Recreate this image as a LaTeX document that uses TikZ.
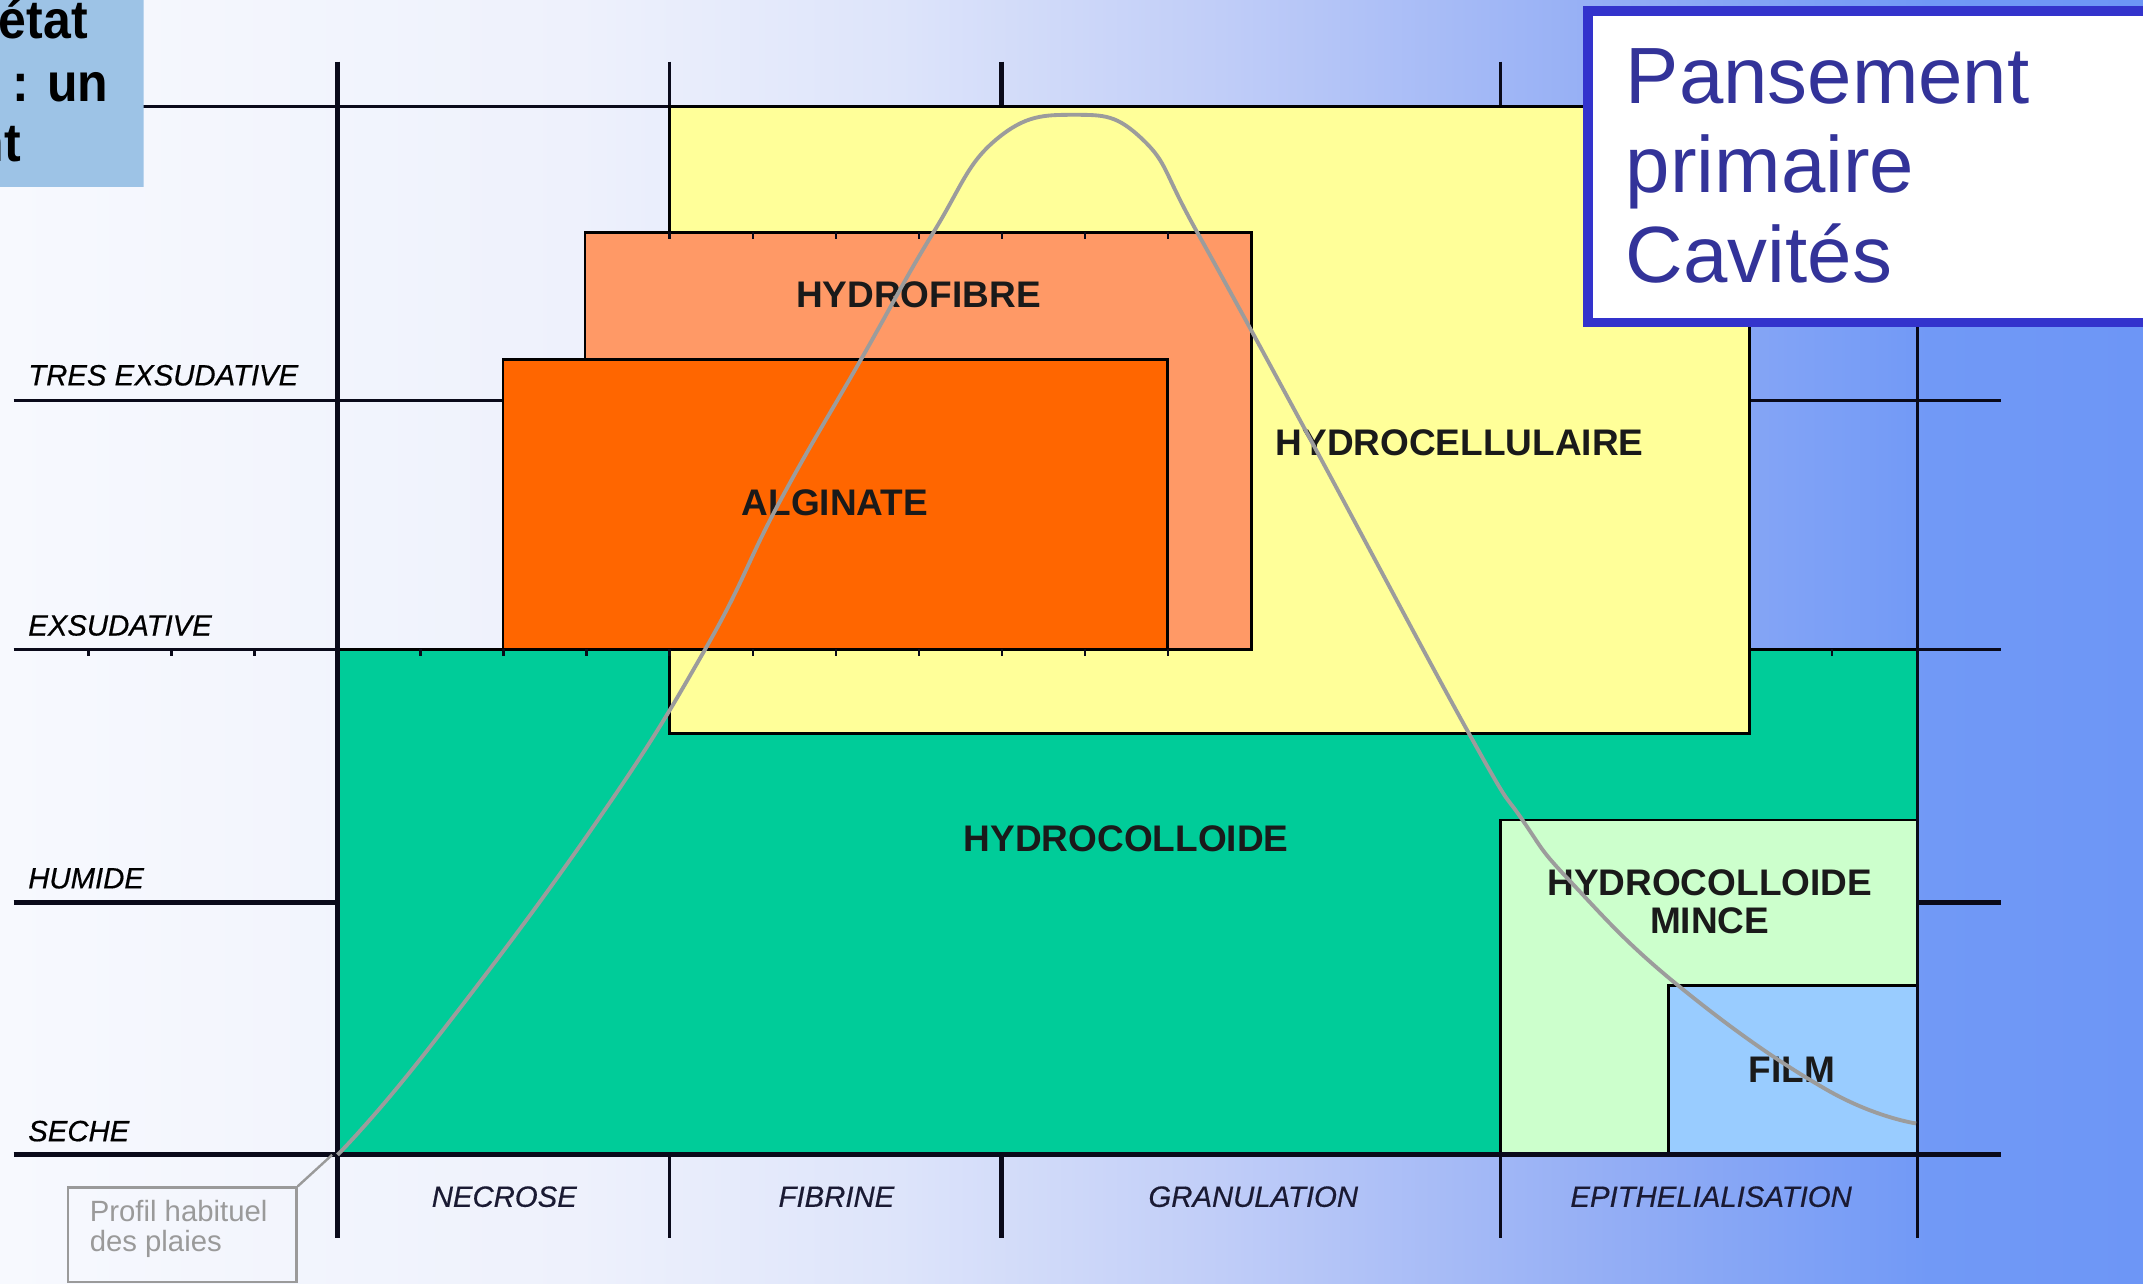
\documentclass[tikz,border=0pt]{standalone}
\usepackage{fontspec}
\setmainfont{Liberation Sans}
\newfontfamily\labfont[FakeBold=0.5]{Liberation Sans Italic}
\usepackage{graphicx}
\definecolor{bgA}{HTML}{F7F9FE}
\definecolor{bgB}{HTML}{EEF1FC}
\definecolor{bgC}{HTML}{DDE4FA}
\definecolor{bgD}{HTML}{C0CDF8}
\definecolor{bgE}{HTML}{94AEF5}
\definecolor{bgF}{HTML}{7199F6}
\definecolor{bgG}{HTML}{6D96F6}
\definecolor{cYellow}{HTML}{FFFF99}
\definecolor{cHydrofibre}{HTML}{FF9966}
\definecolor{cAlginate}{HTML}{FF6600}
\definecolor{cGreen}{HTML}{00CC99}
\definecolor{cMince}{HTML}{CCFFCC}
\definecolor{cFilm}{HTML}{99CCFF}
\definecolor{cTopBox}{HTML}{9DC3E6}
\definecolor{cPansBorder}{HTML}{3333CC}
\definecolor{cPansText}{HTML}{333399}
\definecolor{cLine}{HTML}{0A0A1A}
\definecolor{cCurve}{HTML}{9C9C9C}
\definecolor{cCallout}{HTML}{9A9A9A}
\definecolor{cLabel}{HTML}{1A1A1A}
\definecolor{cColLab}{HTML}{1A1A33}
\pgfdeclarehorizontalshading{bgshade}{100bp}{color(0bp)=(bgA); color(25bp)=(bgA); color(38.5bp)=(bgB); color(46bp)=(bgC); color(53.5bp)=(bgD); color(62.5bp)=(bgE); color(70bp)=(bgF); color(75bp)=(bgG); color(100bp)=(bgG)}
\begin{document}
\begin{tikzpicture}[x=0.01cm, y=-0.01cm,
  thinline/.style={draw=cLine, line width=0.6pt},
  thickline/.style={draw=cLine, line width=1.05pt},
  zone/.style={draw=black, line width=0.6pt},
  rowlab/.style={font=\fontsize{6.1pt}{7pt}\labfont, anchor=base west, inner sep=0pt, text=black},
  collab/.style={font=\fontsize{6.1pt}{7pt}\labfont, anchor=base, inner sep=0pt, text=cColLab},
  mainlab/.style={font=\fontsize{7.7pt}{9pt}\selectfont\bfseries, anchor=base, inner sep=0pt, text=cLabel},
  panstext/.style={font=\fontsize{16.6pt}{18.6pt}\selectfont, anchor=base west, inner sep=0pt, text=cPansText},
  topboxtext/.style={font=\fontsize{10.4pt}{12pt}\selectfont\bfseries, anchor=base east, inner sep=0pt, text=black},
  tickmark/.style={draw=cLine, line width=0.5pt},
  profil/.style={draw=cCurve, line width=0.8pt},
  calltext/.style={font=\fontsize{6.1pt}{7pt}\selectfont, anchor=base west, inner sep=0pt, text=cCallout},
  callbox/.style={draw=cCallout, line width=0.5pt}
]
\useasboundingbox (0,0) rectangle (1568,939);
\shade[shading=bgshade] (0,0) rectangle (1568,939);

% grid lines
\draw[thinline] (10,78) -- (1160,78);
\draw[thinline] (10,293) -- (1464,293);
\draw[thinline] (10,475) -- (1464,475);
\draw[thickline] (10,660) -- (1464,660);
\draw[thinline] (490,45) -- (490,906);
\draw[thickline] (733,45) -- (733,906);
\draw[thinline] (1098,45) -- (1098,906);

% zones
\filldraw[zone, fill=cGreen] (247,475) rectangle (1403,845);
\filldraw[zone, fill=cYellow] (490,78) rectangle (1280,537);
\filldraw[zone, fill=cHydrofibre] (428,170) rectangle (916,475);
\filldraw[zone, fill=cAlginate] (368,263) rectangle (854,475);
\filldraw[zone, fill=cMince] (1098,600) rectangle (1403,845);
\filldraw[zone, fill=cFilm] (1221,721) rectangle (1403,845);

% main axes on top
\draw[thickline] (247,45) -- (247,906);
\draw[thickline] (10,845) -- (1464,845);
\draw[thinline] (1403,236) -- (1403,906);

% small ticks
\foreach \k in {-3,...,10,18} \draw[tickmark] ({247+60.75*\k},475) -- ++(0,5);
\foreach \k in {4,...,10} \draw[tickmark] ({247+60.75*\k},170) -- ++(0,5);

% row labels
\node[rowlab] (lTres) at (20,282) {TRES EXSUDATIVE};
\node[rowlab] (lExs) at (20,465) {EXSUDATIVE};
\node[rowlab] (lHum) at (20,650) {HUMIDE};
\node[rowlab] (lSec) at (20,835) {SECHE};

% column labels
\node[collab] (cNec) at (369,883) {NECROSE};
\node[collab] (cFib) at (612,883) {FIBRINE};
\node[collab] (cGra) at (917,883) {GRANULATION};
\node[collab] (cEpi) at (1252,883) {EPITHELIALISATION};

% zone labels
\node[mainlab] (tHydrofibre) at (672,225) {HYDROFIBRE};
\node[mainlab] (tAlginate) at (611,377) {ALGINATE};
\node[mainlab] (tCellu) at (1068,333) {HYDROCELLULAIRE};
\node[mainlab] (tColl) at (824,623) {HYDROCOLLOIDE};
\node[mainlab] (tMince1) at (1251,655) {HYDROCOLLOIDE};
\node[mainlab] (tMince2) at (1251,683) {MINCE};
\node[mainlab] (tFilm) at (1311,792) {FILM};

% wound profile curve
\draw[profil] plot[smooth, tension=0.75] coordinates {(247,845) (313,768) (434,605) (516,475) (570,368) (630,263) (683,170) (729,102) (786,84) (836,102) (876,170) (958,320) (1075,537) (1114,600) (1150,646) (1229,722) (1336,797) (1402,822)};

% callout
\coordinate (origin) at (243,845);
\node[callbox, minimum width=1.67cm, minimum height=0.69cm, inner sep=0pt, anchor=north west] (callout) at (49,868) {};
\node[calltext] (ct1) at (65,894) {Profil habituel};
\node[calltext] (ct2) at (65,916) {des plaies};
\draw[callbox] (callout.north east) -- (origin);

% title box
\draw[draw=cPansBorder, line width=2pt, fill=white] (1162,8) rectangle (1640,236);
\node[panstext] (p1) at (1189,76) {Pansement};
\node[panstext] (p2) at (1189,141) {primaire};
\node[panstext] (p3) at (1189,207) {Cavités};

% clipped top-left box
\begin{scope}
\clip (0,0) rectangle (105,137);
\fill[cTopBox] (0,0) rectangle (105,137);
\node[topboxtext] (t1) at (65,28) {\scalebox{1}[1.08]{état}};
\node[topboxtext] (t2) at (80,74) {\scalebox{1}[1.08]{: un}};
\node[topboxtext] (t3) at (16,118) {\scalebox{1}[1.08]{nt}};
\end{scope}
\end{tikzpicture}
\end{document}
